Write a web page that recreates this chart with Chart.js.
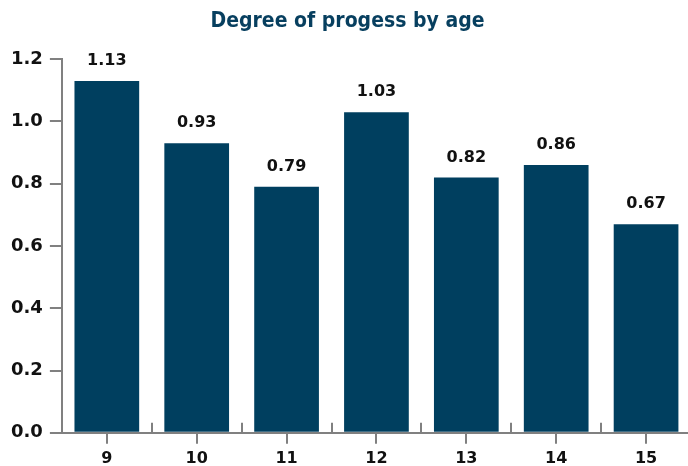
<!DOCTYPE html>
<html>
<head>
<meta charset="utf-8">
<script src="https://cdn.jsdelivr.net/npm/chart.js@4"></script>
<style>
html,body{margin:0;padding:0;overflow:hidden;background:#fff;}
canvas{display:block;}
</style>
</head>
<body>
<canvas id="c" width="691" height="473"></canvas>
<script>
const categories = ['9','10','11','12','13','14','15'];
const values = [1.13, 0.93, 0.79, 1.03, 0.82, 0.86, 0.67];
const yTicks = [0, 0.2, 0.4, 0.6, 0.8, 1.0, 1.2];
const titleText = 'Degree of progess by age';

const BAR = '#003f5f';
const AXIS = '#808080';

const extras = {
  id: 'extras',
  afterDraw(chart) {
    const ctx = chart.ctx;
    const x = chart.scales.x;
    const area = chart.chartArea;
    ctx.save();
    ctx.strokeStyle = AXIS;
    ctx.lineWidth = 2;
    for (let i = 1; i < categories.length; i++) {
      const px = Math.round((x.getPixelForValue(i - 1) + x.getPixelForValue(i)) / 2);
      ctx.beginPath();
      ctx.moveTo(px, area.bottom);
      ctx.lineTo(px, area.bottom - 10);
      ctx.stroke();
    }
    ctx.fillStyle = '#111';
    ctx.font = 'bold 16px "DejaVu Sans"';
    ctx.textAlign = 'center';
    ctx.textBaseline = 'alphabetic';
    const meta = chart.getDatasetMeta(0);
    meta.data.forEach((bar, i) => {
      ctx.fillText(values[i].toFixed(2), bar.x, bar.y - 16);
    });
    ctx.restore();
  }
};

new Chart(document.getElementById('c'), {
  type: 'bar',
  data: {
    labels: categories,
    datasets: [{
      data: values,
      backgroundColor: BAR,
      borderWidth: 0,
      barPercentage: 0.72,
      categoryPercentage: 1
    }]
  },
  options: {
    responsive: false,
    animation: false,
    layout: { padding: { left: 4, right: 0, top: 0, bottom: 0 } },
    plugins: {
      legend: { display: false },
      tooltip: { enabled: false },
      title: {
        display: true,
        text: titleText,
        color: '#073f5f',
        font: { family: '"DejaVu Sans Condensed", "DejaVu Sans"', size: 21, weight: 'bold', lineHeight: 1.2 },
        padding: { top: 9, bottom: 25 }
      }
    },
    scales: {
      x: {
        offset: true,
        grid: {
          offset: false,
          drawOnChartArea: false,
          drawTicks: true,
          tickLength: 11,
          color: AXIS,
          lineWidth: 2
        },
        border: { display: true, color: AXIS, width: 2 },
        ticks: {
          color: '#111',
          font: { family: '"DejaVu Sans"', size: 16, weight: 'bold' },
          padding: 5
        }
      },
      y: {
        min: 0,
        max: 1.2,
        afterBuildTicks(scale) {
          scale.ticks = yTicks.map(v => ({ value: v }));
        },
        grid: {
          drawOnChartArea: false,
          drawTicks: true,
          tickLength: 12,
          color: AXIS,
          lineWidth: 2
        },
        border: { display: true, color: AXIS, width: 2 },
        ticks: {
          color: '#111',
          font: { family: '"DejaVu Sans"', size: 18, weight: 'bold' },
          padding: 7,
          callback: (v) => Number(v).toFixed(1)
        }
      }
    }
  },
  plugins: [extras]
});
</script>
</body>
</html>
